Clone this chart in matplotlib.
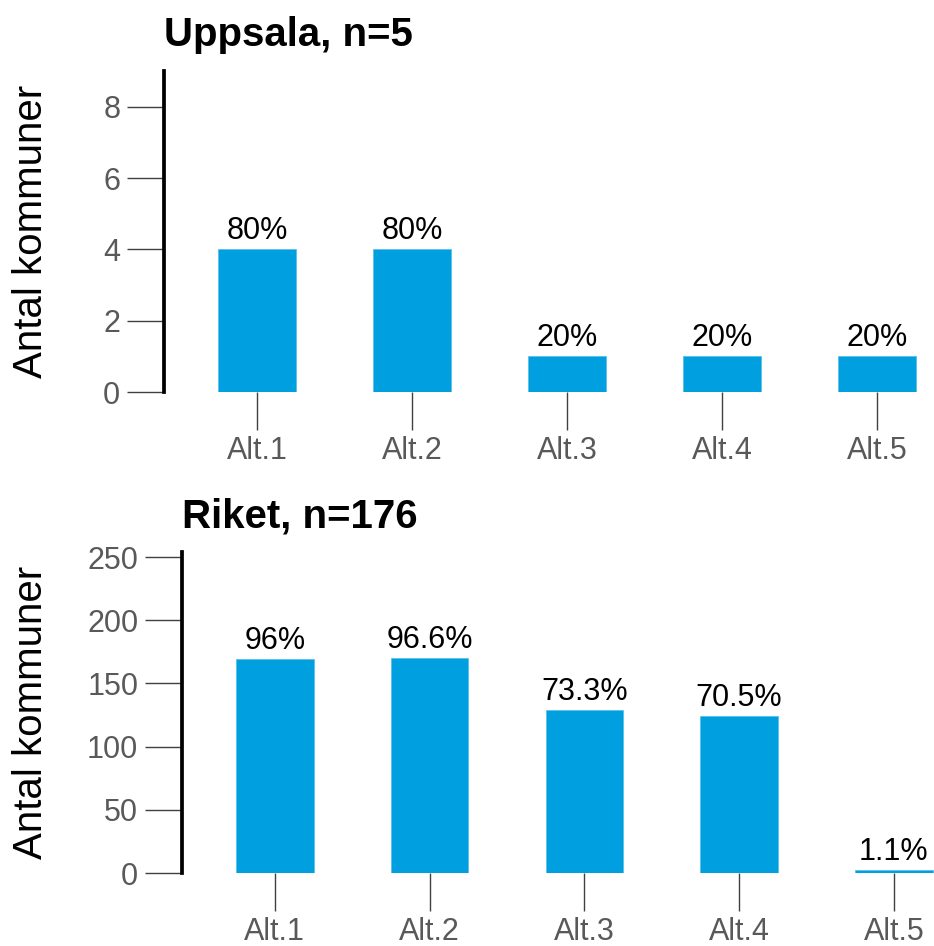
import matplotlib
matplotlib.use('Agg')
from matplotlib import pyplot as plt

alts = ['Alt.1', 'Alt.2', 'Alt.3', 'Alt.4', 'Alt.5']
positions = [1, 2, 3, 4, 5]

uppsala_title = 'Uppsala, n=5'
uppsala_counts = [4, 4, 1, 1, 1]
uppsala_pct = ['80%', '80%', '20%', '20%', '20%']
uppsala_yticks = [0, 2, 4, 6, 8]

riket_title = 'Riket, n=176'
riket_counts = [169, 170, 129, 124, 2]
riket_pct = ['96%', '96.6%', '73.3%', '70.5%', '1.1%']
riket_yticks = [0, 50, 100, 150, 200, 250]

plt.rcParams['font.family'] = ['Liberation Sans', 'DejaVu Sans']

W, H = 934, 946
fig = plt.figure(figsize=(W / 100, H / 100), dpi=100)

bar_color = '#009fe0'
tick_color = '#404040'
label_color = '#595959'


def draw_panel(rect, counts, pct, yticks, ylim, xlim, title):
    ax = fig.add_axes(rect)
    bars = ax.bar(positions, counts, width=0.5, color=bar_color,
                  edgecolor='#5bc0ea', linewidth=0.6)
    ax.bar_label(bars, labels=pct, padding=2.5, fontsize=22, color='black')
    ax.set_xlim(*xlim)
    ax.set_ylim(*ylim)
    ax.set_xticks(positions, alts)
    ax.set_yticks(yticks)
    for s in ['top', 'right', 'bottom']:
        ax.spines[s].set_visible(False)
    ax.spines['left'].set_linewidth(2.7)
    ax.spines['left'].set_color('black')
    ax.tick_params(axis='y', length=26.5, width=1, color=tick_color,
                   labelsize=22, labelcolor=label_color, pad=5)
    ax.tick_params(axis='x', length=27.5, width=1, color=tick_color,
                   labelsize=22, labelcolor=label_color, pad=4)
    ax.set_ylabel('Antal kommuner', fontsize=29, color='black')
    ax.set_title(title, loc='left', fontsize=29, fontweight='bold', pad=18)
    return ax


# top panel: Uppsala
ax1 = draw_panel([164 / W, (H - 392) / H, 770 / W, 321 / H],
                 uppsala_counts, uppsala_pct, uppsala_yticks,
                 (0, 9), (0.4, 0.4 + 770 / 155), uppsala_title)
ax1.yaxis.set_label_coords((50 - 164) / 770, 0.5)

# bottom panel: Riket
ax2 = draw_panel([182 / W, (H - 873) / H, 752 / W, 321 / H],
                 riket_counts, riket_pct, riket_yticks,
                 (0, 254), (0.4, 0.4 + 752 / 154.75), riket_title)
ax2.yaxis.set_label_coords((50 - 182) / 752, 0.5)

plt.savefig('out.png', dpi=100)
